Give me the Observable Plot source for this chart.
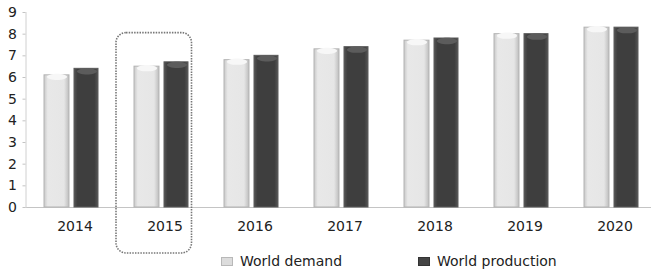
<!DOCTYPE html>
<html>
<head>
<meta charset="utf-8">
<script src="https://cdn.jsdelivr.net/npm/d3@7"></script>
<script src="https://cdn.jsdelivr.net/npm/@observablehq/plot@0.6"></script>
<style>
  html, body { margin: 0; padding: 0; background: #fff; }
  body { width: 651px; height: 274px; overflow: hidden; font-family: "DejaVu Sans", Verdana, sans-serif; }
  #chart svg { display: block; }
  #legend { position: relative; height: 29px; font-size: 14px; color: #222; }
  #legend .item { position: absolute; top: 8px; display: flex; align-items: center; }
  #legend .sw { width: 10px; height: 7px; margin-right: 7px; }
</style>
</head>
<body>
<div id="chart"></div>
<div id="legend"></div>
<script>
const years = ["2014", "2015", "2016", "2017", "2018", "2019", "2020"];
const demand = [6.1, 6.5, 6.8, 7.3, 7.7, 8.0, 8.3];
const production = [6.4, 6.7, 7.0, 7.4, 7.8, 8.0, 8.3];
const yTicks = [0, 1, 2, 3, 4, 5, 6, 7, 8, 9];
const seriesNames = ["World demand", "World production"];
const highlightYears = ["2015"];
const highlightExtent = [-2.12, 8.05];

const data = years.map((year, i) => ({ year, demand: demand[i], production: production[i] }));
const highlight = highlightYears.map(year => ({ year, y1: highlightExtent[0], y2: highlightExtent[1] }));

// ellipse symbol for the cylinder-like bar tops
const capSymbol = {
  draw(ctx) {
    const rx = 10, ry = 3.2, k = 0.5523;
    ctx.moveTo(-rx, 0);
    ctx.bezierCurveTo(-rx, -ry * k, -rx * k, -ry, 0, -ry);
    ctx.bezierCurveTo(rx * k, -ry, rx, -ry * k, rx, 0);
    ctx.bezierCurveTo(rx, ry * k, rx * k, ry, 0, ry);
    ctx.bezierCurveTo(-rx * k, ry, -rx, ry * k, -rx, 0);
    ctx.closePath();
  }
};

const chart = Plot.plot({
  width: 651,
  height: 245,
  marginLeft: 25.5,
  marginRight: -4.5,
  marginTop: 12,
  marginBottom: 38,
  style: { fontFamily: "DejaVu Sans, Verdana, sans-serif", fontSize: "14px", color: "#222", overflow: "visible" },
  x: { domain: years, padding: 0, label: null },
  y: { domain: [0, 9], label: null },
  marks: [
    Plot.ruleY([0], { stroke: "#c4c4c4" }),
    Plot.frame({ anchor: "left", stroke: "#d0d0d0" }),
    Plot.axisY({ ticks: yTicks, tickSize: 3, tickPadding: 6, stroke: "#c4c4c4", fill: "#222", fontSize: 14 }),
    Plot.axisX({ tickSize: 0, tickPadding: 14, dx: 3.5, fill: "#222", fontSize: 14 }),
    Plot.barY(data, { x: "year", y: "demand", fill: "url(#gDemand)", stroke: "#b3b3b3", strokeWidth: 1, insetLeft: 18, insetRight: 47 }),
    Plot.dot(data, { x: "year", y: "demand", dx: -14.5, dy: 1.5, symbol: capSymbol, fill: "#f7f7f7", stroke: "none", r: 1 }),
    Plot.barY(data, { x: "year", y: "production", fill: "url(#gProd)", stroke: "#5a5a5a", strokeWidth: 1, insetLeft: 48, insetRight: 18 }),
    Plot.dot(data, { x: "year", y: "production", dx: 15.5, dy: 2.5, symbol: capSymbol, fill: "#5c5c5c", stroke: "none", r: 1 }),
    Plot.barY(highlight, { x: "year", y1: "y1", y2: "y2", fill: "none", stroke: "#777", strokeWidth: 1.6, strokeDasharray: "1.5,1.2", rx: 10, insetLeft: 0, insetRight: 14.5, clip: false })
  ]
});

const ns = "http://www.w3.org/2000/svg";
const defs = document.createElementNS(ns, "defs");
defs.innerHTML = `
  <linearGradient id="gDemand" x1="0" x2="1" y1="0" y2="0">
    <stop offset="0" stop-color="#c8c8c8"/>
    <stop offset="0.15" stop-color="#e8e8e8"/>
    <stop offset="0.8" stop-color="#e6e6e6"/>
    <stop offset="1" stop-color="#bdbdbd"/>
  </linearGradient>
  <linearGradient id="gProd" x1="0" x2="1" y1="0" y2="0">
    <stop offset="0" stop-color="#555"/>
    <stop offset="0.15" stop-color="#3e3e3e"/>
    <stop offset="0.85" stop-color="#3e3e3e"/>
    <stop offset="1" stop-color="#555"/>
  </linearGradient>`;
chart.insertBefore(defs, chart.firstChild);
document.getElementById("chart").appendChild(chart);

const legend = document.getElementById("legend");
const legendItems = [
  { name: seriesNames[0], color: "#dcdcdc", border: "#b8b8b8", left: 221 },
  { name: seriesNames[1], color: "#444", border: "#333", left: 418 }
];
legendItems.forEach(it => {
  const d = document.createElement("div");
  d.className = "item";
  d.style.left = it.left + "px";
  d.innerHTML = `<span class="sw" style="background:${it.color};border:1px solid ${it.border}"></span><span>${it.name}</span>`;
  legend.appendChild(d);
});
</script>
</body>
</html>
